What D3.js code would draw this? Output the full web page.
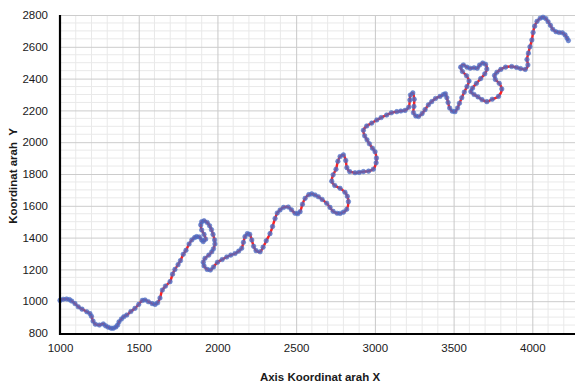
<!DOCTYPE html>
<html>
<head>
<meta charset="utf-8">
<script src="https://cdn.jsdelivr.net/npm/d3@7"></script>
<style>
  html, body { margin: 0; padding: 0; background: #fff; }
  svg { display: block; }
  text { font-family: "Liberation Sans", Arial, sans-serif; }
</style>
</head>
<body>
<div id="chart"></div>
<script>
var width = 575, height = 385;

// river centre line
var xs = [1000,1020,1042,1060,1074,1095,1116,1140,1170,1190,1200,1210,1225,1250,1275,1290,1307,1325,1339,1355,
  1366,1375,1390,1405,1424,1450,1476,1500,1523,1540,1561,1585,1604,1620,1635,1650,1670,1699,1715,1730,
  1750,1765,1783,1800,1820,1837,1855,1868,1885,1900,1910,1925,1915,1900,1894,1900,1915,1935,1950,1962,
  1972,1982,1984,1975,1964,1945,1921,1910,1915,1935,1955,1975,2000,2030,2059,2085,2112,2135,2154,2165,
  2175,2190,2205,2218,2230,2245,2271,2290,2310,2334,2350,2366,2380,2398,2420,2450,2470,2493,2510,2525,
  2540,2557,2580,2599,2620,2641,2665,2694,2715,2735,2760,2779,2800,2821,2832,2825,2810,2779,2745,2726,
  2735,2753,2765,2779,2800,2815,2822,2840,2874,2900,2927,2960,2990,3008,3010,3001,2985,2965,2950,2935,
  2927,2948,2980,3012,3040,3075,3105,3139,3165,3192,3215,3222,3226,3241,3250,3248,3245,3260,3277,3300,
  3319,3340,3361,3385,3414,3435,3448,3457,3465,3475,3492,3509,3525,3537,3552,3568,3585,3598,3582,3556,
  3545,3562,3585,3605,3630,3650,3665,3685,3703,3711,3698,3672,3645,3620,3610,3630,3655,3680,3711,3745,
  3785,3806,3790,3765,3760,3775,3800,3830,3869,3900,3925,3955,3972,3966,3975,3985,3997,4005,4015,4030,
  4050,4068,4085,4100,4115,4130,4150,4170,4191,4208,4220,4229];
var ys = [1005,1012,1014,1010,1001,985,965,950,934,922,905,875,855,850,857,845,836,830,830,838,
  850,870,888,902,913,935,955,980,1005,1008,997,985,980,990,1020,1070,1095,1123,1170,1200,
  1230,1255,1295,1320,1360,1385,1400,1406,1404,1385,1375,1390,1420,1448,1480,1500,1506,1495,1475,1450,
  1420,1385,1360,1330,1311,1290,1270,1245,1222,1200,1196,1215,1245,1262,1278,1290,1300,1315,1333,1370,
  1406,1425,1420,1385,1345,1318,1311,1340,1380,1425,1470,1520,1555,1574,1590,1592,1575,1553,1550,1563,
  1610,1647,1670,1675,1668,1657,1640,1616,1590,1565,1553,1552,1560,1578,1626,1660,1685,1710,1728,1755,
  1795,1830,1880,1910,1920,1885,1840,1815,1808,1810,1815,1818,1830,1870,1900,1940,1962,1990,2015,2040,
  2075,2102,2120,2140,2155,2171,2185,2192,2196,2200,2220,2265,2297,2310,2270,2225,2185,2165,2162,2180,
  2205,2235,2255,2275,2288,2300,2305,2280,2250,2215,2195,2192,2215,2245,2280,2315,2350,2385,2418,2445,
  2472,2486,2472,2465,2468,2465,2485,2498,2490,2460,2430,2400,2370,2340,2318,2300,2285,2268,2255,2270,
  2288,2335,2370,2395,2420,2440,2458,2472,2476,2470,2463,2458,2486,2520,2560,2600,2643,2690,2730,2760,
  2780,2786,2778,2758,2735,2710,2695,2690,2688,2675,2655,2639];

var xTicks = [1000,1500,2000,2500,3000,3500,4000];
var yTicks = [800,1000,1200,1400,1600,1800,2000,2200,2400,2600,2800];

var data = xs.map(function (d, i) { return { x: d, y: ys[i] }; });

var plotLeft = 60, plotTop = 15, plotBottom = 333;
var x = d3.scaleLinear().domain([1000, 4300]).range([plotLeft, plotLeft + 3300 / 500 * 78.72]);
var y = d3.scaleLinear().domain([800, 2800]).range([plotBottom, plotTop]);

var svg = d3.select("#chart").append("svg").attr("width", width).attr("height", height);

// minor grid
svg.append("g").selectAll("line")
    .data(d3.range(1100, 4301, 100).filter(function (d) { return d % 500 != 0; }))
    .enter().append("line")
    .attr("x1", function (d) { return x(d); }).attr("x2", function (d) { return x(d); })
    .attr("y1", plotTop).attr("y2", plotBottom)
    .attr("stroke", "#e9e9e9").attr("stroke-width", 1);
svg.append("g").selectAll("line")
    .data(d3.range(850, 2800, 50).filter(function (d) { return d % 200 != 0; }))
    .enter().append("line")
    .attr("y1", function (d) { return y(d); }).attr("y2", function (d) { return y(d); })
    .attr("x1", plotLeft).attr("x2", width)
    .attr("stroke", "#e9e9e9").attr("stroke-width", 1);

// major grid
svg.append("g")
    .attr("transform", "translate(0," + plotBottom + ")")
    .call(d3.axisBottom(x).tickValues(xTicks).tickSize(-(plotBottom - plotTop)).tickFormat(""))
    .call(function (g) { g.select(".domain").remove(); })
    .selectAll("line").attr("stroke", "#c8c8c8");
svg.append("g")
    .attr("transform", "translate(" + plotLeft + ",0)")
    .call(d3.axisLeft(y).tickValues(yTicks).tickSize(-(width - plotLeft)).tickFormat(""))
    .call(function (g) { g.select(".domain").remove(); })
    .selectAll("line").attr("stroke", "#cccccc");

// series: red line with blue markers
var line = d3.line()
    .x(function (d) { return x(d.x); })
    .y(function (d) { return y(d.y); })
    .curve(d3.curveCatmullRom);
svg.append("path").datum(data)
    .attr("d", line)
    .attr("fill", "none")
    .attr("stroke", "#ff2020")
    .attr("stroke-width", 2.4);
svg.append("g").selectAll("circle")
    .data(data)
    .enter().append("circle")
    .attr("cx", function (d) { return x(d.x); })
    .attr("cy", function (d) { return y(d.y); })
    .attr("r", 2.3)
    .attr("fill", "#4a6cc4")
    .attr("fill-opacity", 0.78)
    .attr("stroke", "#4a6cc4")
    .attr("stroke-opacity", 0.6)
    .attr("stroke-width", 0.8);

// axes
var xAxis = svg.append("g")
    .attr("transform", "translate(0," + plotBottom + ")")
    .call(d3.axisBottom(x).tickValues(xTicks).tickSize(0).tickPadding(11).tickFormat(d3.format("d")));
xAxis.select(".domain").remove();
xAxis.selectAll("text").attr("font-size", "11.5px").attr("fill", "#1a1a1a")
    .style("font-family", "'Liberation Sans', Arial, sans-serif");
var yAxis = svg.append("g")
    .attr("transform", "translate(" + plotLeft + ",0)")
    .call(d3.axisLeft(y).tickValues(yTicks).tickSize(0).tickPadding(12).tickFormat(d3.format("d")));
yAxis.select(".domain").remove();
yAxis.selectAll("text").attr("font-size", "11.5px").attr("fill", "#1a1a1a")
    .style("font-family", "'Liberation Sans', Arial, sans-serif");

svg.append("line").attr("x1", plotLeft - 1).attr("x2", width).attr("y1", plotBottom + 1).attr("y2", plotBottom + 1)
    .attr("stroke", "#000").attr("stroke-width", 2.2);
svg.append("line").attr("x1", plotLeft).attr("x2", plotLeft).attr("y1", plotTop).attr("y2", plotBottom + 2)
    .attr("stroke", "#000").attr("stroke-width", 2.2);

// titles
svg.append("text")
    .attr("x", 320).attr("y", 381)
    .attr("text-anchor", "middle")
    .attr("font-size", "11.5px").attr("font-weight", "bold").attr("fill", "#1a1a1a")
    .text("Axis Koordinat arah X");
svg.append("text")
    .attr("transform", "translate(17,176) rotate(-90)")
    .attr("text-anchor", "middle")
    .attr("font-size", "11.5px").attr("font-weight", "bold").attr("fill", "#1a1a1a")
    .attr("xml:space", "preserve")
    .text("Koordinat arah  Y");
</script>
</body>
</html>
